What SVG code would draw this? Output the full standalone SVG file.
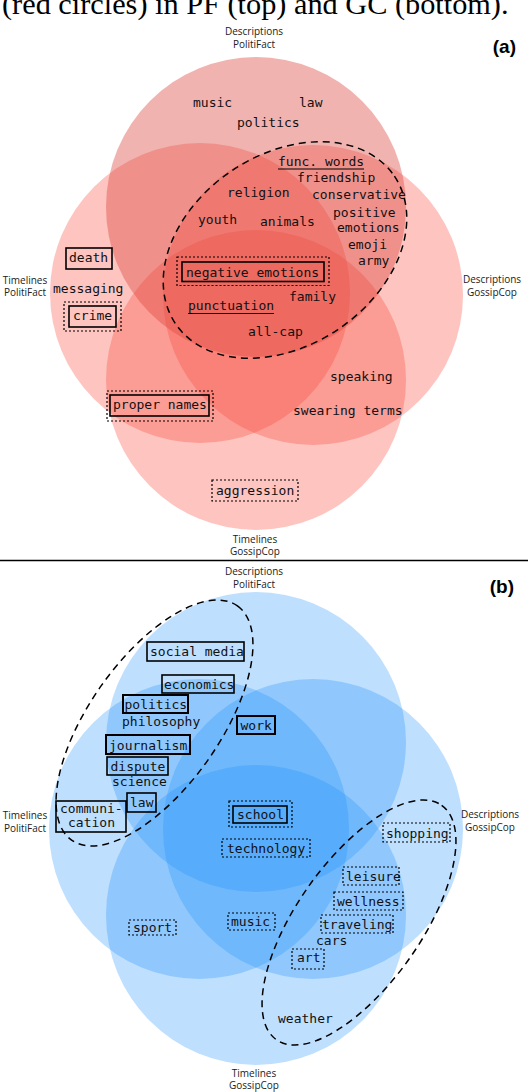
<svg xmlns="http://www.w3.org/2000/svg" width="528" height="1092" viewBox="0 0 528 1092">
<style>
.kw{font-family:"DejaVu Sans Mono","Liberation Mono",monospace;font-size:13px;fill:#111}
.lbl{font-family:"Open Sans","Noto Sans","Liberation Sans",sans-serif;font-size:10px;fill:#222;text-anchor:middle}
.pl{font-family:"Liberation Sans","DejaVu Sans",sans-serif;font-size:19px;font-weight:bold;fill:#000;text-anchor:end}
.cap{font-family:"Liberation Serif","DejaVu Serif",serif;font-size:30.3px;fill:#000}
.rt{fill:rgb(220,70,60);fill-opacity:.41}
.rc{fill:rgb(248,70,60);fill-opacity:.32}
.bc{fill:rgb(30,144,250);fill-opacity:.29}
.sb{fill:none;stroke:#000;stroke-width:1.6}
.tb{fill:none;stroke:#000;stroke-width:2}
.db{fill:none;stroke:#000;stroke-width:1.2;stroke-dasharray:2 2}
.dl{fill:none;stroke:#000;stroke-width:1.5;stroke-dasharray:7 5}
.ul{stroke:#000;stroke-width:1.2}
</style>
<text class="cap" x="2" y="14">(red circles) in PF (top) and GC (bottom).</text>
<line x1="0" y1="560.5" x2="528" y2="560.5" stroke="#000" stroke-width="1.3"/>

<g id="panel-a">
  <g id="a-circles">
    <circle id="a-tl-pf" class="rc" cx="200" cy="293" r="150"/>
    <circle id="a-ds-gc" class="rc" cx="313" cy="295" r="150"/>
    <circle id="a-tl-gc" class="rc" cx="256" cy="380" r="150"/>
    <circle id="a-ds-pf" class="rt" cx="256" cy="207" r="150"/>
  </g>
  <g id="a-labels">
    <text class="lbl" x="254" y="35">Descriptions</text>
    <text class="lbl" x="254" y="48">PolitiFact</text>
    <text class="lbl" x="25" y="284">Timelines</text>
    <text class="lbl" x="25" y="296">PolitiFact</text>
    <text class="lbl" x="492" y="283">Descriptions</text>
    <text class="lbl" x="492" y="296">GossipCop</text>
    <text class="lbl" x="255" y="543">Timelines</text>
    <text class="lbl" x="255" y="555">GossipCop</text>
    <text class="pl" x="516" y="53">(a)</text>
  </g>
  <g id="a-connectors">
    <ellipse class="dl" cx="285" cy="250" rx="132" ry="95.5" transform="rotate(-34 285 250)"/>
  </g>
  <g id="a-music"><text class="kw" x="193" y="107">music</text></g>
  <g id="a-law"><text class="kw" x="299" y="107">law</text></g>
  <g id="a-politics"><text class="kw" x="237" y="127">politics</text></g>
  <g id="a-func"><text class="kw" x="278" y="166">func. words</text><line class="ul" x1="278" y1="169" x2="364" y2="169"/></g>
  <g id="a-friendship"><text class="kw" x="297" y="182">friendship</text></g>
  <g id="a-religion"><text class="kw" x="227" y="197">religion</text></g>
  <g id="a-conservative"><text class="kw" x="312" y="199">conservative</text></g>
  <g id="a-youth"><text class="kw" x="198" y="224">youth</text></g>
  <g id="a-animals"><text class="kw" x="260" y="226">animals</text></g>
  <g id="a-positive"><text class="kw" x="333" y="217">positive</text></g>
  <g id="a-emotions"><text class="kw" x="337" y="232">emotions</text></g>
  <g id="a-emoji"><text class="kw" x="348" y="249">emoji</text></g>
  <g id="a-army"><text class="kw" x="358" y="265">army</text></g>
  <g id="a-death"><rect class="sb" x="66" y="248" width="46" height="21"/><text class="kw" x="69" y="262">death</text></g>
  <g id="a-messaging"><text class="kw" x="53" y="293">messaging</text></g>
  <g id="a-crime"><rect class="db" x="64" y="302" width="57" height="29"/><rect class="sb" x="69" y="306" width="47" height="21"/><text class="kw" x="73" y="320">crime</text></g>
  <g id="a-negemo"><rect class="db" x="177" y="257" width="152" height="28.5"/><rect class="sb" x="182" y="262" width="142" height="19.5"/><text class="kw" x="186" y="276.5">negative emotions</text></g>
  <g id="a-family"><text class="kw" x="289" y="301">family</text></g>
  <g id="a-punct"><text class="kw" x="188" y="310">punctuation</text><line class="ul" x1="188" y1="313.5" x2="274" y2="313.5"/></g>
  <g id="a-allcap"><text class="kw" x="248" y="336">all-cap</text></g>
  <g id="a-speaking"><text class="kw" x="330" y="381">speaking</text></g>
  <g id="a-proper"><rect class="db" x="107" y="391" width="106" height="30"/><rect class="sb" x="110" y="395" width="99" height="21"/><text class="kw" x="113" y="409">proper names</text></g>
  <g id="a-swearing"><text class="kw" x="293" y="415">swearing terms</text></g>
  <g id="a-aggression"><rect class="db" x="212" y="480" width="86" height="21"/><text class="kw" x="216" y="495">aggression</text></g>
</g>

<g id="panel-b">
  <g id="b-circles">
    <circle id="b-ds-pf" class="bc" cx="256" cy="742" r="150"/>
    <circle id="b-tl-pf" class="bc" cx="199" cy="829" r="150"/>
    <circle id="b-ds-gc" class="bc" cx="313" cy="829" r="150"/>
    <circle id="b-tl-gc" class="bc" cx="256" cy="915" r="150"/>
  </g>
  <g id="b-labels">
    <text class="lbl" x="254" y="575">Descriptions</text>
    <text class="lbl" x="254" y="588">PolitiFact</text>
    <text class="lbl" x="25" y="819">Timelines</text>
    <text class="lbl" x="25" y="832">PolitiFact</text>
    <text class="lbl" x="490" y="818">Descriptions</text>
    <text class="lbl" x="490" y="831">GossipCop</text>
    <text class="lbl" x="254" y="1077">Timelines</text>
    <text class="lbl" x="254" y="1089">GossipCop</text>
    <text class="pl" x="514" y="593">(b)</text>
  </g>
  <g id="b-connectors">
    <ellipse class="dl" cx="154.5" cy="723" rx="143.5" ry="65" transform="rotate(-54.7 154.5 723)"/>
    <ellipse class="dl" cx="359" cy="922.5" rx="143.4" ry="62" transform="rotate(-54.8 359 922.5)"/>
  </g>
  <g id="b-social"><rect class="sb" x="147" y="642" width="97" height="19"/><text class="kw" x="150" y="656">social media</text></g>
  <g id="b-economics"><rect class="sb" x="162" y="675" width="72" height="18"/><text class="kw" x="164" y="689">economics</text></g>
  <g id="b-politics"><rect class="tb" x="123" y="695" width="65" height="18"/><text class="kw" x="124.5" y="708.5">politics</text></g>
  <g id="b-philosophy"><text class="kw" x="122" y="726">philosophy</text></g>
  <g id="b-work"><rect class="tb" x="237" y="716" width="38" height="18"/><text class="kw" x="240.5" y="730">work</text></g>
  <g id="b-journalism"><rect class="tb" x="106" y="735" width="84" height="19"/><text class="kw" x="109" y="749.5">journalism</text></g>
  <g id="b-dispute"><rect class="sb" x="107" y="757" width="61" height="18"/><text class="kw" x="110.5" y="771">dispute</text></g>
  <g id="b-science"><text class="kw" x="112" y="786">science</text></g>
  <g id="b-law"><rect class="sb" x="127" y="793" width="29" height="19"/><text class="kw" x="130" y="806.5">law</text></g>
  <g id="b-communication"><rect class="sb" x="56" y="801" width="70" height="31"/><text class="kw" x="60" y="813">communi-</text><text class="kw" x="68" y="827">cation</text></g>
  <g id="b-school"><rect class="db" x="229" y="801" width="63" height="26"/><rect class="sb" x="233" y="806" width="54" height="17"/><text class="kw" x="237" y="818.5">school</text></g>
  <g id="b-technology"><rect class="db" x="222" y="839" width="88" height="18"/><text class="kw" x="227" y="853">technology</text></g>
  <g id="b-shopping"><rect class="db" x="383" y="823" width="67" height="19"/><text class="kw" x="386" y="837.5">shopping</text></g>
  <g id="b-leisure"><rect class="db" x="343" y="867" width="56" height="18"/><text class="kw" x="346" y="881">leisure</text></g>
  <g id="b-wellness"><rect class="db" x="334" y="892" width="69" height="18"/><text class="kw" x="337" y="905.5">wellness</text></g>
  <g id="b-traveling"><rect class="db" x="321" y="915" width="72" height="18"/><text class="kw" x="322" y="928.5">traveling</text></g>
  <g id="b-music"><rect class="db" x="228" y="913" width="47" height="17"/><text class="kw" x="231" y="925.5">music</text></g>
  <g id="b-sport"><rect class="db" x="129" y="920" width="47" height="15"/><text class="kw" x="133" y="931.5">sport</text></g>
  <g id="b-cars"><text class="kw" x="316" y="945">cars</text></g>
  <g id="b-art"><rect class="db" x="292" y="949" width="32" height="20"/><text class="kw" x="297" y="962">art</text></g>
  <g id="b-weather"><text class="kw" x="278" y="1023">weather</text></g>
</g>
</svg>
